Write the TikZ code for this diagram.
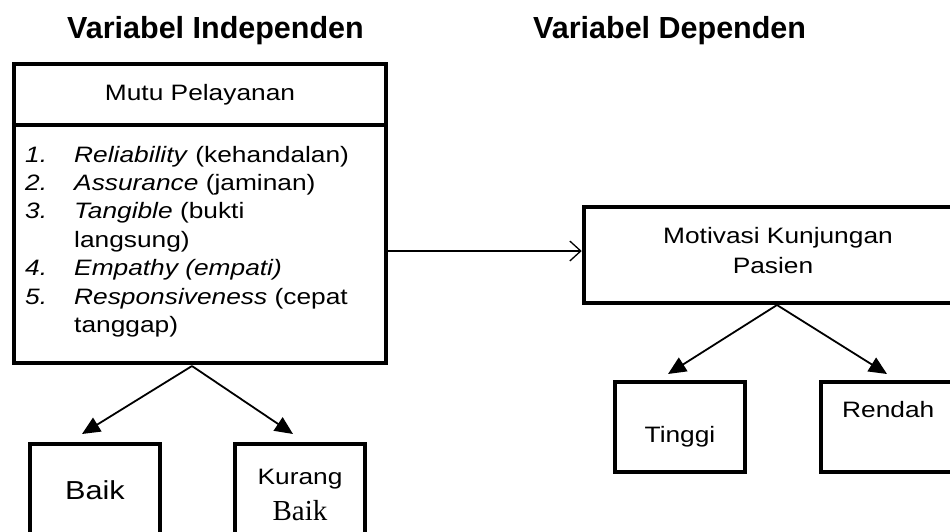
\documentclass[tikz,border=0pt]{standalone}
\usepackage{fontspec}
\setmainfont{Liberation Sans}[FakeStretch=1.18]
\newfontfamily\titlefont{Liberation Sans}
\newfontfamily\timesfont{Liberation Serif}
\usetikzlibrary{arrows.meta,calc}
\tikzset{
  box/.style={draw, line width=4.5pt, inner sep=0pt, minimum width=#1},
  box/.default=130pt,
  txt/.style={inner sep=0pt, font=\fontsize{22.3}{28}\selectfont},
  ttl/.style={inner sep=0pt, font=\titlefont\bfseries\fontsize{30.5}{34}\selectfont},
  tree/.style={line width=1.8pt, -{Triangle[length=18pt,width=16pt]}},
  link/.style={line width=1.3pt, -{Straight Barb[length=11pt,width=20pt,line width=1.3pt]}}
}
\begin{document}
\begin{tikzpicture}[x=1pt,y=-1pt]
\useasboundingbox (0,0) rectangle (950,531);
\clip (0,0) rectangle (950,531);
% titles
\node[ttl, anchor=base west] (t1) at (67,38) {Variabel Independen};
\node[ttl, anchor=base west] (t2) at (533,38) {Variabel Dependen};
% main box
\node[box=372pt, minimum height=299pt] (main) at (200,213.5) {};
\draw[line width=4.5pt] ($(main.north west)+(0,63)$) -- ($(main.north east)+(0,63)$);
\node[txt, anchor=base] (mutu) at (200,100) {Mutu Pelayanan};
\node[txt, anchor=base west] (n1) at (25,162) {\itshape 1.};
\node[txt, anchor=base west] (l1) at (74,162) {\textit{Reliability} (kehandalan)};
\node[txt, anchor=base west] (n2) at (25,190.4) {\itshape 2.};
\node[txt, anchor=base west] (l2) at (74,190.4) {\textit{Assurance} (jaminan)};
\node[txt, anchor=base west] (n3) at (25,218.8) {\itshape 3.};
\node[txt, anchor=base west] (l3) at (74,218.8) {\textit{Tangible} (bukti};
\node[txt, anchor=base west] (l3b) at (74,247.2) {langsung)};
\node[txt, anchor=base west] (n4) at (25,275.6) {\itshape 4.};
\node[txt, anchor=base west] (l4) at (74,275.6) {\textit{Empathy (empati)}};
\node[txt, anchor=base west] (n5) at (25,304) {\itshape 5.};
\node[txt, anchor=base west] (l5) at (74,304) {\textit{Responsiveness} (cepat};
\node[txt, anchor=base west] (l5b) at (74,332.4) {tanggap)};
% dependent box
\node[box=388pt, minimum height=96pt] (mot) at (778,255) {};
\node[txt, anchor=base] (motA) at (778,243) {Motivasi Kunjungan};
\node[txt, anchor=base] (motB) at (773,273) {Pasien};
% link
\coordinate (hA) at (386,251);
\draw[link] (hA) -- (mot.west |- hA);
% lower left boxes
\node[box, minimum height=116pt] (baik) at (95,502) {};
\node[inner sep=0pt, font=\fontsize{26}{30}\selectfont, anchor=base] (baikT) at (95,499) {Baik};
\node[box, minimum height=116pt] (kurang) at (300,502) {};
\node[txt, anchor=base] (kurT) at (300,484) {Kurang};
\node[inner sep=0pt, font=\timesfont\fontsize{29}{32}\selectfont, anchor=base] (kurB) at (300,520) {Baik};
% lower right boxes
\node[box, minimum height=90pt] (tinggi) at (680,427) {};
\node[txt, anchor=base] (tinT) at (680,442) {Tinggi};
\node[box=149pt, minimum height=90pt] (rendah) at (895.5,427) {};
\node[txt, anchor=base west] (renT) at (842,417) {Rendah};
% tree arrows
\coordinate (mA) at (192,366);
\coordinate (mL) at (82,434);
\coordinate (mR) at (293,434);
\draw[tree] (mA) -- (mL);
\draw[tree] (mA) -- (mR);
\coordinate (dA) at (777,305);
\coordinate (dL) at (668,374);
\coordinate (dR) at (887,374);
\draw[tree] (dA) -- (dL);
\draw[tree] (dA) -- (dR);
\end{tikzpicture}
\end{document}
